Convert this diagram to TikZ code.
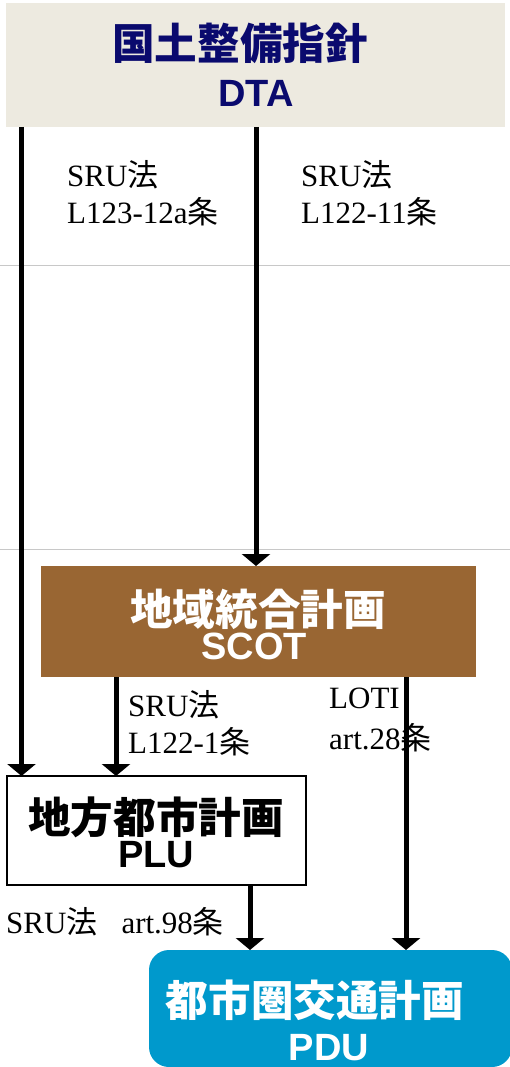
\documentclass[tikz,border=0pt]{standalone}
\usepackage{fontspec}
\setmainfont{Liberation Serif}
\newfontfamily\cjk{Noto Sans CJK JP}
\newfontfamily\arial{Liberation Sans}
\usetikzlibrary{arrows.meta}
\definecolor{dtafill}{HTML}{EDEAE0}
\definecolor{navy}{RGB}{10,10,110}
\definecolor{scotfill}{HTML}{996633}
\definecolor{pdufill}{HTML}{0099CC}
\definecolor{rulegray}{HTML}{C8C8C8}
\begin{document}
\begin{tikzpicture}[x=1pt,y=-1pt,
  box/.style={inner sep=0pt, outer sep=0pt, minimum width=#1},
  ttl/.style={anchor=base, inner sep=0pt, font=\cjk\bfseries\fontsize{42.6}{42.6}\selectfont},
  abbr/.style={anchor=base, inner sep=0pt, font=\arial\bfseries\fontsize{38}{38}\selectfont},
  lab/.style={anchor=base west, inner sep=0pt, font=\fontsize{31}{37}\selectfont},
  arr/.style={line width=5pt, -{Triangle[width=28pt,length=12pt]}},
  sep/.style={draw=rulegray, line width=1pt}]
\useasboundingbox (0,0) rectangle (510,1067);
% separators
\coordinate (s1a) at (0,265.5); \coordinate (s1b) at (510,265.5);
\coordinate (s2a) at (0,549.5); \coordinate (s2b) at (510,549.5);
\draw[sep] (s1a) -- (s1b);
\draw[sep] (s2a) -- (s2b);
% boxes
\node[box=499pt, minimum height=124pt, fill=dtafill] (dta) at (255.5,65) {};
\node[box=435pt, minimum height=111pt, fill=scotfill] (scot) at (258.5,621.5) {};
\node[box=299pt, minimum height=109pt, draw=black, line width=2pt, fill=white] (plu) at (156.5,830.5) {};
\node[box=363pt, minimum height=117pt, fill=pdufill, rounded corners=20pt] (pdu) at (330.5,1008.5) {};
% box texts
\node[ttl, text=navy] (dtaj) at (240,60) {国土整備指針};
\node[abbr, text=navy] (dtat) at (256,107) {DTA};
\node[ttl, text=white] (scotj) at (258,625) {地域統合計画};
\node[abbr, text=white] (scott) at (254,659) {SCOT};
\node[ttl, text=black] (pluj) at (156,833) {地方都市計画};
\node[abbr, text=black] (plut) at (156,867) {PLU};
\node[ttl, text=white] (pduj) at (315,1016) {都市圏交通計画};
\node[abbr, text=white] (pdut) at (329,1060) {PDU};
% arrows
\draw[arr] (dta.south -| 21.5,0) -- (plu.north -| 21.5,0);
\draw[arr] (dta.south -| 256,0) -- (scot.north -| 256,0);
\draw[arr] (scot.south -| 116,0) -- (plu.north -| 116,0);
\draw[arr] (scot.south -| 406,0) -- (pdu.north -| 406,0);
\draw[arr] (plu.south -| 250,0) -- (pdu.north -| 250,0);
% labels
\node[lab] (la1) at (67,187) {SRU{\cjk 法}};
\node[lab] (la2) at (67,224) {L123-12a{\cjk 条}};
\node[lab] (lb1) at (301,187) {SRU{\cjk 法}};
\node[lab] (lb2) at (301,224) {L122-11{\cjk 条}};
\node[lab] (lc1) at (128,716) {SRU{\cjk 法}};
\node[lab] (lc2) at (128,753) {L122-1{\cjk 条}};
\node[lab] (ld1) at (329,708) {LOTI};
\node[lab] (ld2) at (329,749) {art.28{\cjk 条}};
\node[lab] (le1) at (6,933) {SRU{\cjk 法}\hspace{24pt}art.98{\cjk 条}};
\end{tikzpicture}
\end{document}
